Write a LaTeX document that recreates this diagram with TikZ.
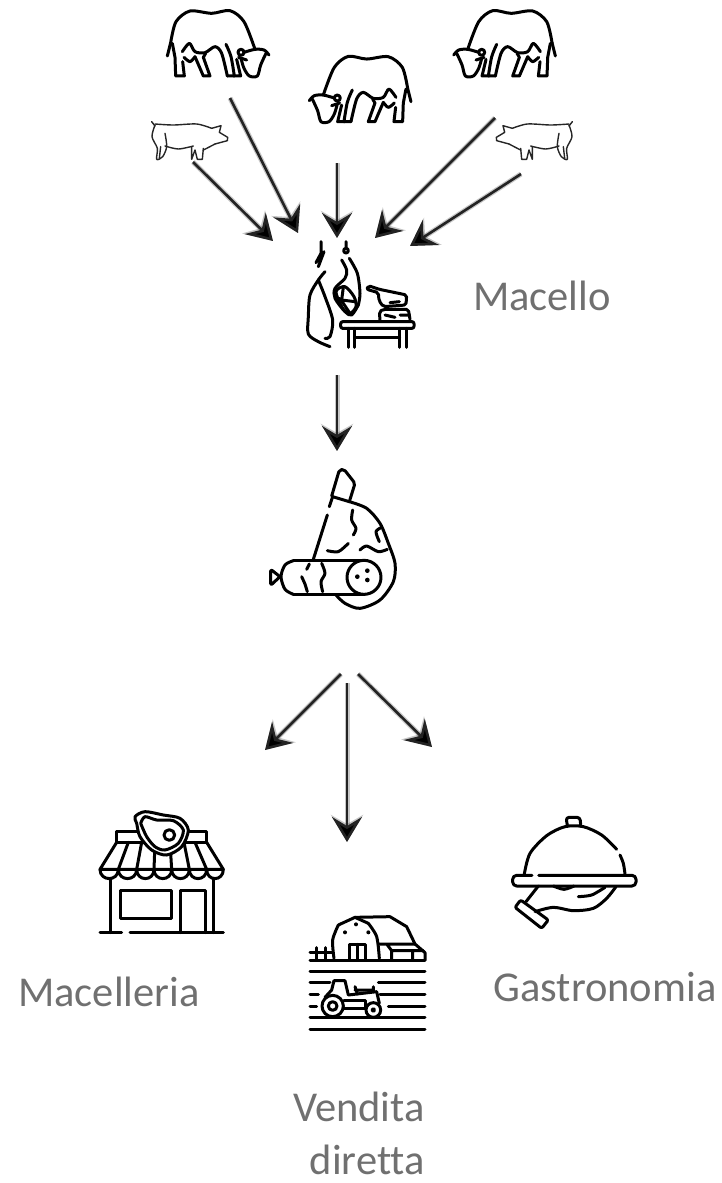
\documentclass[tikz,border=0pt]{standalone}
\usepackage{fontspec}
\setmainfont[Ligatures=NoCommon]{Carlito}
\usetikzlibrary{arrows.meta}
\definecolor{LabelGray}{RGB}{112, 112, 112}
\definecolor{ArrowGray}{RGB}{35, 35, 35}

\begin{document}
\begin{tikzpicture}[
    x=1pt, y=-1pt,
    icon/.style={scale=1/3},
    icon flip/.style={xscale=-1/3, yscale=1/3},
    icon line/.style={draw=black, line width=3pt, line cap=round, line join=round},
    pig line/.style={draw=black!85, line width=1.4pt, line cap=round, line join=round},
    flow/.style={draw=ArrowGray, line width=2.6pt, -{Stealth[length=25pt, width=30pt, inset=9pt, fill=black]},
        preaction={draw=black, opacity=0.22, line width=5pt, -{Stealth[length=27pt, width=32pt, inset=9pt]}}},
    label/.style={text=LabelGray, font=\fontsize{42.5}{53}\selectfont, inner sep=0pt},
    pics/cow/.style={code={
        \draw[icon line] plot[smooth] coordinates {(92,128) (108,65) (150,33) (215,40) (270,32) (312,65) (345,148)};
        \draw[icon line] (92,128) -- (82,168);
        \draw[icon line] (97,130) -- (105,172) -- (107,228) -- (133,228) -- (128,185);
        \draw[icon line] plot[smooth] coordinates {(127,155) (148,130) (165,155) (195,158) (225,140) (245,160) (262,228)};
        \draw[icon line] (262,228) -- (283,228) plot[smooth] coordinates {(283,228) (273,170) (258,133)};
        \draw[icon line] (281,228) -- (302,228) -- (290,178);
        \draw[icon line] (165,170) -- (190,228) -- (210,228) -- (190,172) -- (197,160);
        \draw[icon line] plot[smooth] coordinates {(132,172) (150,185) (165,170)};
        \draw[icon line] (303,157) circle (9);
        \draw[icon line] plot[smooth] coordinates {(312,157) (345,148) (372,150) (387,165)};
        \draw[icon line] plot[smooth] coordinates {(303,175) (312,205) (328,228) (352,228) (362,195) (378,160)};
        \draw[icon line] (296,172) -- (320,180);
    }},
    pics/pig/.style={code={
        \draw[pig line] (35,365) -- (45,378);
        \draw[pig line] plot[smooth] coordinates {(45,372) (100,375) (170,372) (215,385)};
        \draw[pig line] (215,385) -- (243,377) -- (238,397) -- (263,412) -- (262,422) -- (225,432);
        \draw[pig line] plot[smooth] coordinates {(225,432) (200,445) (190,450)};
        \draw[pig line] (190,445) -- (187,478) -- (172,478) -- (165,450) -- (155,478) -- (155,440);
        \draw[pig line] plot[smooth] coordinates {(160,438) (115,447) (75,438)};
        \draw[pig line] plot[smooth] coordinates {(75,400) (80,440) (68,470) (50,478) (52,445) (36,410) (45,375)};
        \draw[pig line] (62,440) -- (58,475);
    }},
    pics/butcher/.style={code={
        % hanging carcass
        \draw[icon line] (213,35) -- (213,70) -- (198,98) (222,65) -- (205,110);
        \draw[icon line] plot[smooth] coordinates {(225,125) (205,150) (180,195) (175,260) (175,312) (205,335) (240,350)};
        \draw[icon line] plot[smooth] coordinates {(205,150) (225,200) (248,270) (240,320) (225,325)};
        % hanging ribs
        \draw[icon line] (288,35) -- (288,55) (288,62) circle (7);
        \draw[icon line] plot[smooth] coordinates {(275,90) (290,120) (285,145) (255,175) (255,205) (285,245) (305,255) (325,225)};
        \draw[icon line] plot[smooth] coordinates {(298,85) (322,130) (330,190) (325,225)};
        \draw[icon line] plot[smooth cycle] coordinates {(258,185) (285,170) (312,200) (318,230) (300,250) (278,235)};
        \draw[icon line] (280,172) -- (275,210) -- (315,215) (270,205) -- (300,250);
        % cleaver and block
        \draw[icon line, rounded corners=2pt] (385,188) -- (350,178) -- (355,167) -- (388,178) -- (470,195) -- (468,225) -- (400,230) -- (387,212) -- cycle;
        \draw[icon line] (420,218) -- (448,215);
        \draw[icon line, rounded corners=2pt] (390,270) -- (388,245) -- (400,238) -- (475,238) -- (480,268);
        \draw[icon line] (405,255) -- (435,262) (450,255) -- (478,255);
        % table
        \draw[icon line, rounded corners=2pt] (272,275) rectangle (492,295);
        \foreach \legx in {295, 314, 449, 470}
            \draw[icon line] (\legx,295) -- (\legx,352);
        \draw[icon line] (314,322) -- (449,322);
    }},
    pics/ham/.style={code={
        \draw[icon line, rounded corners=2pt] (245,798) -- (268,720) -- (282,718) -- (315,760) -- (298,815);
        \draw[icon line] (248,800) -- (298,815);
        \draw[icon line] plot[smooth] coordinates {(298,815) (350,835) (390,880) (415,940) (435,1000) (430,1055) (390,1110) (330,1135) (285,1120) (258,1095)};
        \draw[icon line] (248,800) -- (238,830) (232,855) -- (190,988);
        % marbling
        \draw[icon line] plot[smooth] coordinates {(308,840) (305,870) (318,895) (310,915)};
        \draw[icon line] plot[smooth] coordinates {(232,962) (265,965) (295,940)};
        \draw[icon line] plot[smooth] coordinates {(330,960) (350,948) (385,965) (412,958)};
        \draw[icon line] plot[smooth] coordinates {(395,892) (378,905) (388,935)};
        % salami
        \draw[icon line] (130,992) -- (345,992) (345,1093) -- (130,1093);
        \draw[icon line] plot[smooth] coordinates {(130,992) (105,1005) (93,1040) (105,1078) (130,1093)};
        \draw[icon line, rounded corners=1.5pt] (90,1040) -- (62,1018) -- (62,1066) -- cycle;
        \draw[icon line] (342,1042) circle (51);
        \fill (322,1040) circle (7) (352,1022) circle (7) (352,1050) circle (7);
        \draw[icon line] plot[smooth] coordinates {(215,1000) (225,1030) (213,1055) (218,1085)};
        \draw[icon line] (178,1002) -- (170,1018) (155,1040) -- (165,1062) -- (172,1085);
    }},
    pics/shop/.style={code={
        % sign
        \draw[icon line] (80,125) -- (350,125) -- (350,157) -- (80,157) -- cycle;
        % awning
        \draw[icon line] (80,157) -- (30,238) -- (400,238) -- (350,157);
        \foreach \ribtop/\ribbot in {115/85, 155/140, 195/192, 240/245, 282/298, 315/350}
            \draw[icon line] (\ribtop,157) -- (\ribbot,238);
        \foreach \sl/\sr in {30/85, 85/140, 140/192, 192/245, 245/298, 298/350, 350/400}
            \draw[icon line] (\sl,238) .. controls (\sl,275) and (\sr,275) .. (\sr,238);
        % meat
        \draw[icon line, fill=white] plot[smooth cycle] coordinates {(140,100) (135,80) (165,65) (220,75) (270,85) (295,120) (275,170) (230,195) (185,180) (150,140)};
        \draw[icon line] plot[smooth] coordinates {(152,100) (165,80) (200,90) (250,92) (280,120) (265,160) (225,180) (195,170) (170,140) (152,100)};
        \draw[icon line] (238,135) circle (16);
        % front
        \draw[icon line] (60,265) -- (60,428) (370,265) -- (370,428);
        \draw[icon line] (30,428) -- (95,428) (120,428) -- (400,428);
        \draw[icon line] (90,302) rectangle (245,385);
        \draw[icon line] (272,428) -- (272,302) -- (345,302) -- (345,428);
    }},
    pics/farm/.style={code={
        % barn
        \draw[icon line] plot[smooth] coordinates {(732,505) (728,450) (745,405)};
        \draw[icon line] (745,405) -- (795,382) -- (835,400);
        \draw[icon line] plot[smooth] coordinates {(835,400) (860,440) (868,505)};
        \draw[icon line] (795,382) -- (900,380) -- (950,410) -- (975,462) -- (1005,488) -- (1005,510);
        \draw[icon line] (868,462) -- (975,462) (890,462) -- (905,482) -- (1000,482) (905,482) -- (905,508) (968,482) -- (968,508);
        \draw[icon line] (778,508) -- (778,463) -- (825,463) -- (825,508) (801,463) -- (801,508);
        \fill (798,403) circle (6) (765,427) circle (6) (835,427) circle (6);
        % fence
        \draw[icon line] (660,487) -- (725,487) (680,473) -- (680,508) (707,473) -- (707,508);
        % field
        \foreach \fieldy in {510, 545, 683, 718}
            \draw[icon line] (660,\fieldy) -- (1005,\fieldy);
        \foreach \fx/\fy in {865/578, 870/613, 895/648}
            \draw[icon line] (\fx,\fy) -- (1005,\fy);
        \foreach \fx/\fy in {720/578, 685/613, 680/648}
            \draw[icon line] (660,\fy) -- (\fx,\fy);
        % tractor
        \draw[icon line] (728,648) circle (32) (728,648) circle (13);
        \draw[icon line] (850,660) circle (22) (850,660) circle (4);
        \draw[icon line] (705,622) -- (725,600) -- (732,572) -- (765,572) -- (775,615) -- (860,605) -- (868,640);
        \draw[icon line] (762,655) -- (825,655) (762,630) -- (825,630) -- (825,655);
        \draw[icon line] (795,590) -- (802,612) (795,600) -- (850,600) (850,590) -- (850,605);
    }},
    pics/cloche/.style={code={
        \draw[icon line, rounded corners=4pt] (126,226) -- (68,226) -- (68,258) -- (438,258) -- (438,226) -- (146,226);
        \draw[icon line] plot[smooth] coordinates {(103,222) (120,160) (170,107) (225,80) (280,80) (335,105) (380,148)};
        \draw[icon line] plot[smooth] coordinates {(390,165) (400,190) (405,222)};
        \draw[icon line, rounded corners=3pt] (232,76) -- (228,52) -- (270,52) -- (272,74);
        % hand
        \draw[icon line, rounded corners=2pt] (92,300) -- (175,360) -- (155,385) -- (75,322) -- cycle;
        \draw[icon line] (145,258) -- (108,305);
        \draw[icon line] plot[smooth] coordinates {(135,335) (190,322) (250,332) (310,325) (350,295) (378,260)};
        \draw[icon line] plot[smooth] coordinates {(265,290) (305,285) (345,262)};
        \draw[icon line] plot[smooth] coordinates {(190,258) (222,268) (252,258)};
    }}
    ]
    \useasboundingbox (0,0) rectangle (721,1183);

    % animals
    \pic[icon] at (140,0) {cow};
    \pic[icon flip] at (438.3,45.7) {cow};
    \pic[icon flip] at (582.7,0) {cow};
    \pic[icon] at (140,0) {pig};
    \pic[icon flip] at (584,0) {pig};

    % icons
    \pic[icon] at (250,230) {butcher};
    \pic[icon] at (250,230) {ham};
    \pic[icon] at (90,790) {shop};
    \pic[icon] at (90,790) {farm};
    \pic[icon] at (490,800) {cloche};

    % labels
    \node[label] (macello) at (542,296) {Macello};
    \node[label] (macelleria) at (109,992) {Macelleria};
    \node[label] (gastronomia) at (605,987) {Gastronomia};
    \node[label, align=right, anchor=north east] (vendita) at (425,1092) {Vendita\\diretta};

    % arrow ends
    \foreach \name/\x/\y in {piga/193/162, pigain/273/241, cowa/230/98, cowain/298/233,
                             cowb/337/163, cowbin/337/238, cowc/495/118, cowcin/375/238,
                             pigb/521/174, pigbin/410/246, meatout/337/375, hamin/337/451,
                             hama/341/674, shopin/265/750, hamb/347/683, farmin/347/842,
                             hamc/358/674, clochein/432/747}
        \coordinate (\name) at (\x,\y);

    % arrows
    \foreach \from/\to in {piga/pigain, cowa/cowain, cowb/cowbin, cowc/cowcin, pigb/pigbin,
                           meatout/hamin, hama/shopin, hamb/farmin, hamc/clochein}
        \draw[flow] (\from) -- (\to);
\end{tikzpicture}
\end{document}
